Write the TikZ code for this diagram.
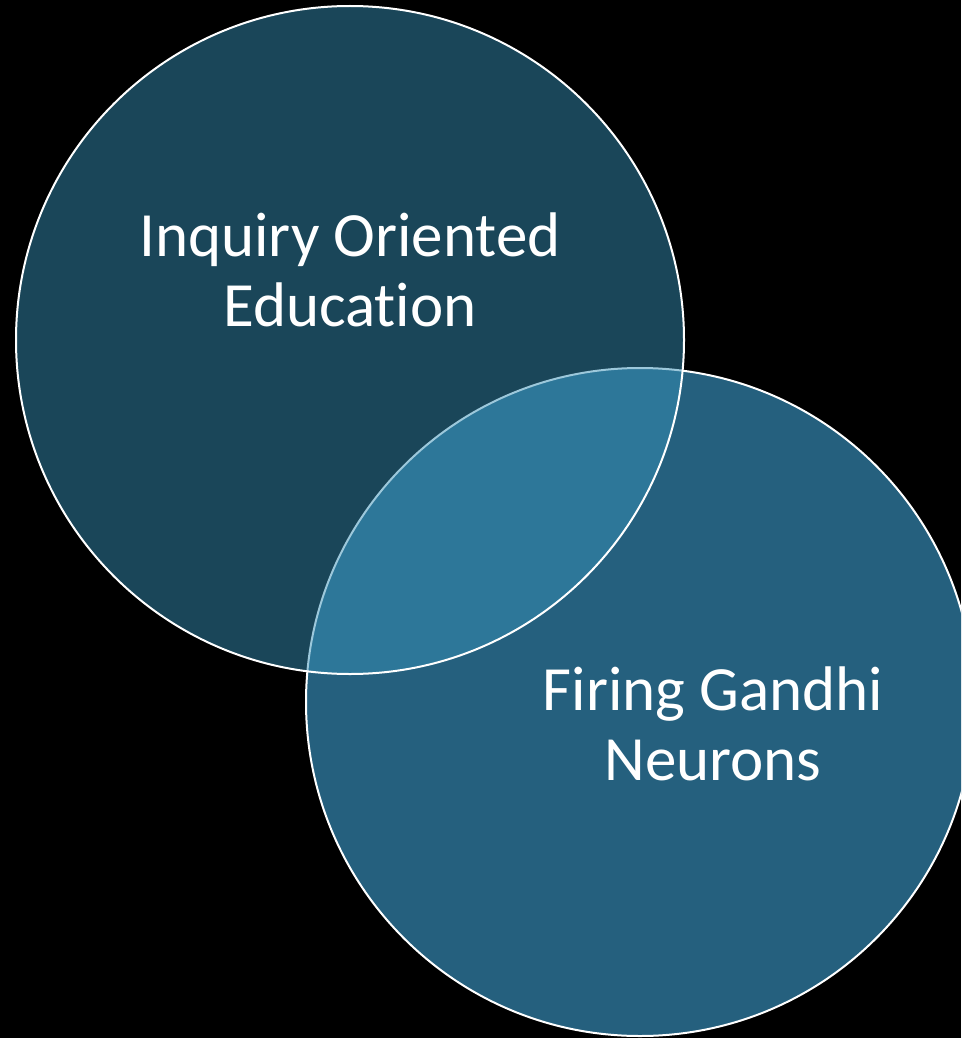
\documentclass[tikz,border=0pt]{standalone}
\usepackage{fontspec}
\setmainfont{Carlito}[Ligatures=NoCommon]
\definecolor{vennA}{RGB}{55,143,182}
\definecolor{vennB}{RGB}{37,96,126}
\begin{document}
\begin{tikzpicture}[x=1pt,y=-1pt,
		venn/.style={circle,draw=white,line width=2pt,minimum size=668pt,inner sep=0pt},
		vennlabel/.style={text=white,align=center,font=\fontsize{63}{70}\selectfont}]
		\fill[black] (0,0) rectangle (961,1038);
		\clip (0,0) rectangle (961,1038);
		\node[venn,fill=vennB] (firing) at (640,702) {};
		\node[venn,fill=vennA,fill opacity=0.49] (inquiry) at (350,340) {}; % drawn on top, see-through
		\node[vennlabel] (inquiryText) at (350,270) {Inquiry Oriented\\Education};
		\node[vennlabel] (firingText) at (713,724) {Firing Gandhi\\Neurons};
		\end{tikzpicture}
\end{document}
